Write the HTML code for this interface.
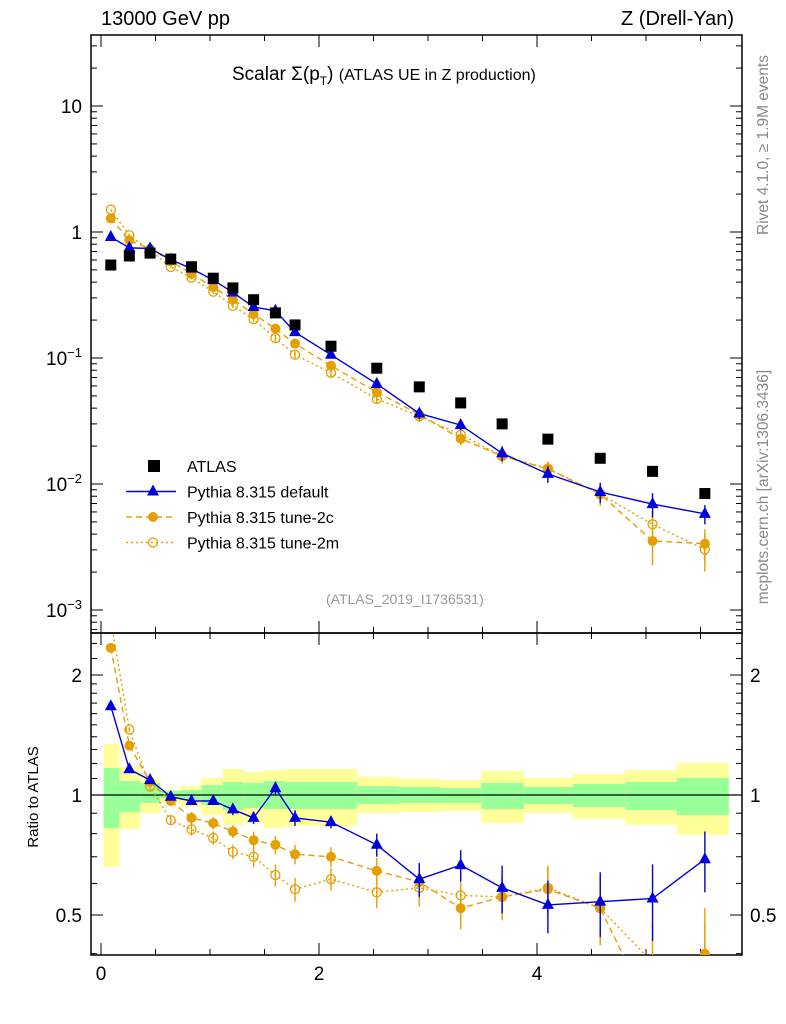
<!DOCTYPE html>
<html><head><meta charset="utf-8">
<style>
html,body{margin:0;padding:0;background:#fff;width:786px;height:1024px;overflow:hidden;position:relative;}
svg{display:block;position:absolute;left:0;top:0;font-family:"Liberation Sans",sans-serif;}
</style></head>
<body>
<svg id="chart" width="786" height="1024" viewBox="0 0 786 1024"></svg>
<script>
const xs=[0.09,0.26,0.45,0.64,0.83,1.03,1.21,1.40,1.60,1.78,2.11,2.53,2.92,3.30,3.68,4.10,4.58,5.06,5.54];
const atlas=[0.547,0.645,0.68,0.61,0.53,0.43,0.36,0.29,0.228,0.183,0.124,0.083,0.059,0.044,0.030,0.0227,0.016,0.0126,0.0084];
const ratioDefault=[1.67,1.16,1.09,0.99,0.966,0.966,0.92,0.876,1.04,0.876,0.855,0.75,0.615,0.667,0.585,0.53,0.54,0.55,0.69];
const errDefault=[0.03,0.02,0.02,0.02,0.02,0.02,0.03,0.03,0.04,0.04,0.03,0.05,0.06,0.06,0.08,0.08,0.1,0.12,0.12];
const ratio2c=[2.34,1.33,1.08,0.966,0.876,0.85,0.81,0.77,0.75,0.71,0.70,0.645,0.605,0.52,0.555,0.58,0.52,0.28,0.40];
const err2c=[0.02,0.02,0.02,0.02,0.03,0.03,0.03,0.04,0.04,0.04,0.04,0.05,0.06,0.06,0.07,0.08,0.1,0.1,0.12];
const ratio2m=[2.75,1.46,1.05,0.865,0.82,0.78,0.72,0.70,0.63,0.58,0.615,0.57,0.585,0.56,0.555,0.585,0.52,0.38,0.36];
const err2m=[0.02,0.02,0.02,0.02,0.03,0.03,0.03,0.04,0.04,0.04,0.04,0.05,0.06,0.06,0.07,0.08,0.1,0.1,0.12];
const binEdges=[0.024,0.17,0.36,0.545,0.73,0.92,1.117,1.306,1.495,1.685,2.35,2.73,3.11,3.49,3.88,4.33,4.81,5.28,5.76];
const yelHi=[1.343,1.176,1.097,1.029,1.053,1.103,1.162,1.142,1.155,1.162,1.11,1.097,1.09,1.149,1.103,1.129,1.155,1.203];
const grnHi=[1.169,1.084,1.072,1.023,1.029,1.059,1.078,1.072,1.084,1.078,1.053,1.047,1.041,1.072,1.047,1.066,1.078,1.103];
const grnLo=[0.826,0.906,0.955,0.983,0.972,0.944,0.917,0.928,0.922,0.922,0.949,0.955,0.955,0.922,0.949,0.933,0.917,0.891];
const yelLo=[0.66,0.822,0.901,0.955,0.933,0.891,0.841,0.851,0.826,0.836,0.901,0.906,0.912,0.851,0.901,0.87,0.841,0.794];
const xTicks=[0,2,4];
const mainTicks=[10,1,0.1,0.01,0.001];
const ratioTicks=[0.5,1,2];

const NS="http://www.w3.org/2000/svg";
const svg=document.getElementById('chart');
const X=v=>101+109*v;
const YM=v=>232-126*Math.log10(v);
const YR=v=>795-120*Math.log2(v);
const clampR=y=>Math.min(955,Math.max(633,y));
const clampM=y=>Math.min(633,Math.max(35,y));
function el(tag,attrs,parent){const e=document.createElementNS(NS,tag);for(const k in attrs)e.setAttribute(k,attrs[k]);(parent||svg).appendChild(e);return e;}
function txt(s,attrs,parent){const e=el('text',attrs,parent);e.textContent=s;return e;}

const defs=el('defs',{});
const c1=el('clipPath',{id:'cm'},defs);el('rect',{x:91,y:35,width:651,height:598},c1);
const c2=el('clipPath',{id:'cr'},defs);el('rect',{x:91,y:633,width:651,height:322},c2);

const gb=el('g',{'clip-path':'url(#cr)'});


for(let i=0;i<yelHi.length;i++){
  const x0=X(binEdges[i]),x1=X(binEdges[i+1]);
  const r1=el('rect',{x:x0,y:YR(yelHi[i]),width:x1-x0,height:YR(yelLo[i])-YR(yelHi[i]),fill:'#ffff99'},gb);
  
  
  const r2=el('rect',{x:x0,y:YR(grnHi[i]),width:x1-x0,height:YR(grnLo[i])-YR(grnHi[i]),fill:'#99ff99'},gb);
  
  
}
el('line',{x1:91,x2:742,y1:YR(1),y2:YR(1),stroke:'#000','stroke-width':1.2});

const f1=el('rect',{x:91,y:35,width:651,height:598,fill:'none',stroke:'#000','stroke-width':1.5});

const f2=el('rect',{x:91,y:633,width:651,height:322,fill:'none',stroke:'#000','stroke-width':1.5});


for(let v=0;v<=5.8;v+=0.5){
  const major=Math.abs(v-Math.round(v/2)*2)<1e-6;const L=major?12:6;
  [[633,1],[955,-1],[35,1]].forEach(([y,d])=>el('line',{x1:X(v),x2:X(v),y1:y,y2:y+d*L,stroke:'#000'}));
  el('line',{x1:X(v),x2:X(v),y1:633,y2:633-L,stroke:'#000'});
}
xTicks.forEach(v=>{const t=txt(String(v),{x:X(v),y:980,'font-size':19,'text-anchor':'middle'});});

for(let e=-4;e<=1;e++){for(let m=1;m<10;m++){const v=m*Math.pow(10,e);const y=YM(v);if(y<35||y>633)continue;const L=m==1?12:6;
  el('line',{x1:91,x2:91+L,y1:y,y2:y,stroke:'#000'});el('line',{x1:742,x2:742-L,y1:y,y2:y,stroke:'#000'});}}
const mainLbl=['10','1','10<tspan dy="-8" font-size="13">−1</tspan>','10<tspan dy="-8" font-size="13">−2</tspan>','10<tspan dy="-8" font-size="13">−3</tspan>'];
mainTicks.forEach((v,i)=>{const t=el('text',{x:82,y:YM(v)+7,'font-size':19,'text-anchor':'end'});t.innerHTML=mainLbl[i];});

[0.4,0.5,0.6,0.7,0.8,0.9,1,1.1,1.2,1.3,1.4,1.5,1.6,1.7,1.8,1.9,2,2.2,2.4].forEach(v=>{const y=YR(v);if(y<633||y>955)return;const L=(v==0.5||v==1||v==2)?12:6;
  el('line',{x1:91,x2:91+L,y1:y,y2:y,stroke:'#000'});el('line',{x1:742,x2:742-L,y1:y,y2:y,stroke:'#000'});});
ratioTicks.forEach(v=>{let t=txt(String(v),{x:82,y:YR(v)+7,'font-size':19,'text-anchor':'end'});
  t=txt(String(v),{x:750,y:YR(v)+7,'font-size':19});});

const series=[
 {name:'default',r:ratioDefault,e:errDefault,col:'#0000dd',dash:'',mk:'tri'},
 {name:'tune-2c',r:ratio2c,e:err2c,col:'#e69f00',dash:'6,4',mk:'dot'},
 {name:'tune-2m',r:ratio2m,e:err2m,col:'#e69f00',dash:'2,3',mk:'ring'}];
function marker(g,mk,x,y,col){
  if(mk=='tri')el('path',{d:`M${x},${y-7}L${x+6},${y+4}L${x-6},${y+4}Z`,fill:col},g);
  else if(mk=='dot')el('circle',{cx:x,cy:y,r:5,fill:col},g);
  else el('circle',{cx:x,cy:y,r:4.5,fill:'none',stroke:col,'stroke-width':1.3},g);
}
series.slice().reverse().forEach(s=>{
  const gm=el('g',{'clip-path':'url(#cm)'});
  const gr=el('g',{'clip-path':'url(#cr)'});
  const pm=xs.map((x,i)=>X(x)+','+YM(atlas[i]*s.r[i])).join(' ');
  const pr=xs.map((x,i)=>X(x)+','+YR(s.r[i])).join(' ');
  el('polyline',{points:pm,fill:'none',stroke:s.col,'stroke-width':1.4,'stroke-dasharray':s.dash},gm);
  el('polyline',{points:pr,fill:'none',stroke:s.col,'stroke-width':1.4,'stroke-dasharray':s.dash},gr);
  xs.forEach((x,i)=>{
    const r=s.r[i],e=s.e[i];
    el('line',{x1:X(x),x2:X(x),y1:clampR(YR(r+e)),y2:clampR(YR(Math.max(r-e,0.05))),stroke:s.col,'stroke-width':1.4},gr);
    el('line',{x1:X(x),x2:X(x),y1:clampM(YM(atlas[i]*(r+e))),y2:clampM(YM(atlas[i]*Math.max(r-e,0.05))),stroke:s.col,'stroke-width':1.4},gm);
    marker(gm,s.mk,X(x),YM(atlas[i]*r),s.col);
    const yr=YR(r);
    if(yr>=628&&yr<=960)marker(gr,s.mk,X(x),yr,s.col);
  });
});
const ga=el('g',{});
xs.forEach((x,i)=>{const r=el('rect',{x:X(x)-5.5,y:YM(atlas[i])-5.5,width:11,height:11,fill:'#000'},ga);});

const leg=[['ATLAS','sq','#000',''],['Pythia 8.315 default','tri','#0000dd',''],['Pythia 8.315 tune-2c','dot','#e69f00','6,4'],['Pythia 8.315 tune-2m','ring','#e69f00','2,3']];
leg.forEach((l,i)=>{
  const y=466+i*25.5;const g=el('g',{});
  if(l[1]=='sq')el('rect',{x:148,y:y-6,width:12,height:12,fill:'#000'},g);
  else{el('line',{x1:126,x2:176,y1:y,y2:y,stroke:l[2],'stroke-width':1.4,'stroke-dasharray':l[3]},g);marker(g,l[1],153,y,l[2]);}
  txt(l[0],{x:187,y:y+6,'font-size':16},g);
});
let t=txt('Ratio to ATLAS',{x:38,y:797,'font-size':15,'text-anchor':'middle',transform:'rotate(-90 38 797)'});

t=txt('Rivet 4.1.0, ≥ 1.9M events',{x:768,y:145,'font-size':15.5,fill:'#888','text-anchor':'middle',transform:'rotate(-90 768 145)'});

t=txt('mcplots.cern.ch [arXiv:1306.3436]',{x:768,y:487,'font-size':15.5,fill:'#888','text-anchor':'middle',transform:'rotate(-90 768 487)'});

</script>
<div style="position:absolute;left:0;top:0;width:786px;height:1024px;overflow:hidden;pointer-events:none;font-family:'Liberation Sans',sans-serif;">
<div style="position:absolute;left:101px;top:8px;font-size:20px;">13000 GeV pp</div>
<div style="position:absolute;right:52px;top:8px;font-size:20px;">Z (Drell-Yan)</div>
<div style="position:absolute;left:232px;top:64px;font-size:19px;white-space:nowrap;">Scalar Σ(p<sub style="font-size:12px">T</sub>) <span style="font-size:16px">(ATLAS UE in Z production)</span></div>
<div style="position:absolute;left:326px;top:591px;font-size:14px;color:#999;">(ATLAS_2019_I1736531)</div>
</div>
</body></html>
